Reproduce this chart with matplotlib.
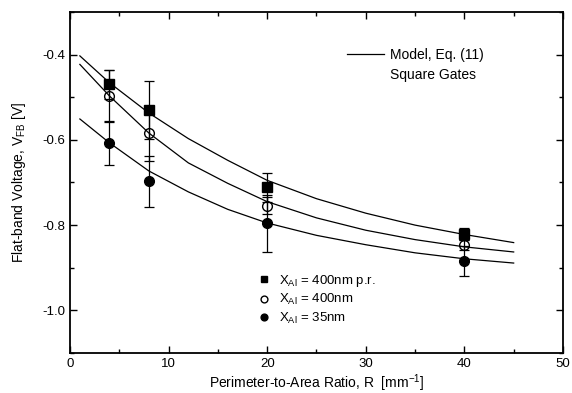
import numpy as np
import matplotlib
matplotlib.use('Agg')
import matplotlib.pyplot as plt
from matplotlib.ticker import MultipleLocator

plt.rcParams['font.family'] = ['Liberation Sans', 'DejaVu Sans']
plt.rcParams['mathtext.fontset'] = 'custom'
plt.rcParams['mathtext.rm'] = 'Liberation Sans'
plt.rcParams['mathtext.it'] = 'Liberation Sans:italic'
plt.rcParams['axes.unicode_minus'] = False

# measured points: perimeter-to-area ratio R [mm^-1]
R = [4, 8, 20, 40]
v_pr = [-0.470, -0.529, -0.711, -0.820]      # X_Al = 400nm p.r.
e_pr = [0.035, 0.068, 0.034, 0.014]
v_400 = [-0.496, -0.585, -0.754, -0.847]     # X_Al = 400nm
e_400 = [0.060, 0.065, 0.020, 0.012]
v_35 = [-0.608, -0.697, -0.796, -0.884]      # X_Al = 35nm
e_35 = [0.050, 0.060, 0.066, 0.035]

# model curves, Eq. (11)
R_model = [1, 4, 8, 12, 16, 20, 25, 30, 35, 40, 45]
m_pr = [-0.403, -0.466, -0.537, -0.597, -0.648, -0.695, -0.738, -0.772, -0.800, -0.822, -0.841]
m_400 = [-0.423, -0.497, -0.584, -0.654, -0.702, -0.745, -0.783, -0.812, -0.834, -0.851, -0.863]
m_35 = [-0.551, -0.607, -0.673, -0.722, -0.763, -0.795, -0.824, -0.846, -0.865, -0.879, -0.889]

fig = plt.figure(figsize=(5.72, 3.93), dpi=100)
ax = fig.add_axes([0.1224, 0.1018, 0.8618, 0.8677])

for m in (m_pr, m_400, m_35):
    ax.plot(R_model, m, color='black', lw=0.9, zorder=2)

kw = dict(color='black', ecolor='black', elinewidth=0.9, capsize=3.5, capthick=0.9,
          markersize=7, linestyle='none', zorder=3)
h1 = ax.errorbar(R, v_pr, yerr=e_pr, fmt='s', mfc='black', **kw)
h2 = ax.errorbar(R, v_400, yerr=e_400, fmt='o', mfc='none', mec='black', **kw)
h3 = ax.errorbar(R, v_35, yerr=e_35, fmt='o', mfc='black', **kw)

ax.set_xlim(0, 50)
ax.set_ylim(-1.1, -0.3)
ax.xaxis.set_major_locator(MultipleLocator(10))
ax.xaxis.set_minor_locator(MultipleLocator(5))
ax.yaxis.set_minor_locator(MultipleLocator(0.1))
ax.set_yticks([-1.0, -0.8, -0.6, -0.4])
ax.yaxis.set_major_formatter(matplotlib.ticker.FormatStrFormatter('%.1f'))
ax.tick_params(which='both', direction='in', top=True, right=True, labelsize=9.5, width=1.0)
ax.tick_params(which='major', length=5)
ax.tick_params(which='minor', length=3)
for s in ax.spines.values():
    s.set_linewidth(1.3)

ax.set_xlabel('Perimeter-to-Area Ratio, R  [mm$^{-1}$]', fontsize=10, labelpad=2)
ax.set_ylabel('Flat-band Voltage, V$_{\\mathrm{FB}}$ [V]', fontsize=10, labelpad=10)

model_h = plt.Line2D([], [], color='black', lw=0.9)
blank_h = plt.Line2D([], [], color='none')
leg1 = ax.legend([model_h, blank_h], ['Model, Eq. (11)', 'Square Gates'], loc='upper left',
                 bbox_to_anchor=(0.55, 0.912), frameon=False, fontsize=10, handlelength=2.7,
                 handletextpad=0.4, labelspacing=0.5, borderaxespad=0)
ax.add_artist(leg1)

ax.legend([h1[0], h2[0], h3[0]],
          ['X$_{\\mathrm{Al}}$ = 400nm p.r.', 'X$_{\\mathrm{Al}}$ = 400nm', 'X$_{\\mathrm{Al}}$ = 35nm'],
          loc='upper left', bbox_to_anchor=(0.37, 0.25), frameon=False, fontsize=9.5,
          markerscale=0.7, handlelength=1.0, handletextpad=0.6, labelspacing=0.25,
          borderaxespad=0)

fig.savefig('out.png', dpi=100)
